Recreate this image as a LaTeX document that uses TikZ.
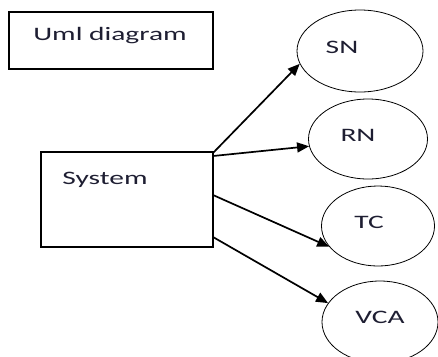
\documentclass[tikz,border=0pt]{standalone}
\usepackage{fontspec}
\setmainfont[FakeStretch=1.55]{Carlito}
\usetikzlibrary{shapes.geometric,arrows.meta}
\definecolor{txt}{RGB}{30,30,50}
\tikzset{
  boxstyle/.style={draw, line width=1.1bp, inner sep=0pt},
  usecase/.style={draw, ellipse, line width=0.8bp, inner sep=0pt},
  lbl/.style={text=txt, font=\fontsize{19bp}{22bp}\selectfont, inner sep=0pt},
  conn/.style={line width=1.7bp, -{Triangle[length=12bp,width=10bp]}}
}
\begin{document}
\begin{tikzpicture}[x=1bp,y=-1bp]
\useasboundingbox (0,0) rectangle (438,356);
% boxes
\node[boxstyle, minimum width=204bp, minimum height=57bp] (uml) at (111,40.5) {};
\node[lbl] (umlt) at (110,36) {Uml diagram};
\node[boxstyle, minimum width=172bp, minimum height=95bp] (sys) at (127,199.5) {};
\node[lbl] (syst) at (105,180) {System};
% use cases
\node[usecase, minimum width=126bp, minimum height=82bp] (sn) at (360,51) {};
\node[usecase, minimum width=119bp, minimum height=80bp] (rn) at (368,139) {};
\node[usecase, minimum width=113bp, minimum height=80bp] (tc) at (378,226) {};
\node[usecase, minimum width=116bp, minimum height=82bp] (vca) at (380,322) {};
\node[lbl] (snt) at (342,47) {SN};
\node[lbl] (rnt) at (358,135) {RN};
\node[lbl] (tct) at (369,222) {TC};
\node[lbl] (vcat) at (380,317) {VCA};
% connector start points on the system box
\coordinate (s1) at (213,153);
\coordinate (s2) at (213,156);
\coordinate (s3) at (213,195);
\coordinate (s4) at (213,237);
\draw[conn] (s1) -- (sn.192);
\draw[conn] (s2) -- (rn.187);
\draw[conn] (s3) -- (tc.203);
\draw[conn] (s4) -- (vca.160);
\end{tikzpicture}
\end{document}
